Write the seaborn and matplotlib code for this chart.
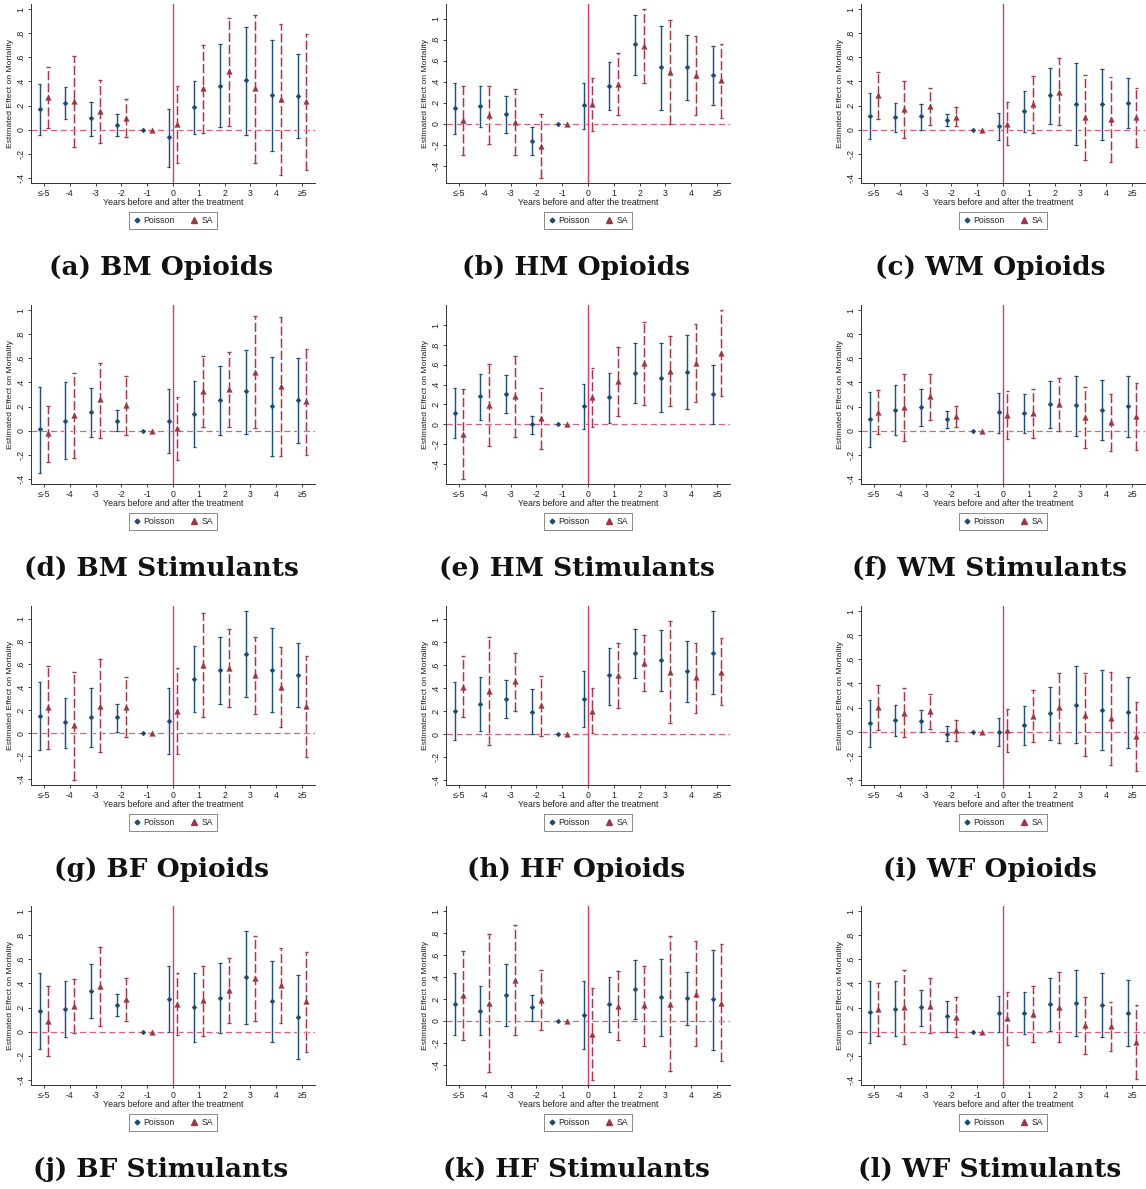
import numpy as np
import pandas as pd
import matplotlib
matplotlib.use("Agg")
import matplotlib.pyplot as plt
import seaborn as sns
from matplotlib.lines import Line2D

# ---------------- data ----------------
periods = ["≤-5", "-4", "-3", "-2", "-1", "0", "1", "2", "3", "4", "≥5"]
y_ticks = [-0.4, -0.2, 0.0, 0.2, 0.4, 0.6, 0.8, 1.0]
y_tick_labels = ["-.4", "-.2", "0", ".2", ".4", ".6", ".8", "1"]
models = ["Poisson", "SA"]
titles = ["(a) BM Opioids", "(b) HM Opioids", "(c) WM Opioids",
          "(d) BM Stimulants", "(e) HM Stimulants", "(f) WM Stimulants",
          "(g) BF Opioids", "(h) HF Opioids", "(i) WF Opioids",
          "(j) BF Stimulants", "(k) HF Stimulants", "(l) WF Stimulants"]

# (a) BM Opioids
bm_op_pois    = [0.170, 0.220, 0.096, 0.040, 0, -0.060, 0.190, 0.366, 0.408, 0.286, 0.280]
bm_op_pois_lo = [-0.040, 0.088, -0.050, -0.055, 0, -0.310, -0.033, 0.020, -0.040, -0.180, -0.066]
bm_op_pois_hi = [0.377, 0.350, 0.230, 0.130, 0, 0.170, 0.400, 0.710, 0.850, 0.744, 0.628]
bm_op_sa      = [0.273, 0.234, 0.154, 0.099, 0, 0.047, 0.342, 0.490, 0.342, 0.256, 0.234]
bm_op_sa_lo   = [0.017, -0.146, -0.107, -0.060, 0, -0.273, -0.025, 0.033, -0.273, -0.372, -0.333]
bm_op_sa_hi   = [0.518, 0.610, 0.408, 0.253, 0, 0.360, 0.700, 0.930, 0.950, 0.876, 0.793]

# (b) HM Opioids
hm_op_pois    = [0.149, 0.168, 0.095, -0.165, 0, 0.175, 0.365, 0.762, 0.537, 0.540, 0.463]
hm_op_pois_lo = [-0.095, -0.029, -0.086, -0.300, 0, -0.044, 0.133, 0.467, 0.133, 0.229, 0.178]
hm_op_pois_hi = [0.390, 0.362, 0.263, -0.025, 0, 0.387, 0.590, 1.038, 0.933, 0.848, 0.743]
hm_op_sa      = [0.035, 0.083, 0.019, -0.206, 0, 0.187, 0.378, 0.743, 0.495, 0.463, 0.413]
hm_op_sa_lo   = [-0.295, -0.194, -0.295, -0.514, 0, -0.070, 0.086, 0.390, 0.000, 0.086, 0.057]
hm_op_sa_hi   = [0.359, 0.359, 0.333, 0.095, 0, 0.435, 0.673, 1.092, 0.990, 0.838, 0.762]

# (c) WM Opioids
wm_op_pois    = [0.116, 0.102, 0.110, 0.080, 0, 0.033, 0.154, 0.286, 0.215, 0.212, 0.223]
wm_op_pois_lo = [-0.074, -0.022, 0.000, 0.028, 0, -0.083, -0.019, 0.050, -0.124, -0.088, 0.017]
wm_op_pois_hi = [0.303, 0.220, 0.212, 0.127, 0, 0.135, 0.322, 0.512, 0.554, 0.501, 0.427]
wm_op_sa      = [0.284, 0.171, 0.196, 0.107, 0, 0.050, 0.209, 0.314, 0.107, 0.088, 0.105]
wm_op_sa_lo   = [0.085, -0.066, 0.039, 0.028, 0, -0.129, -0.025, 0.036, -0.248, -0.267, -0.146]
wm_op_sa_hi   = [0.477, 0.405, 0.347, 0.185, 0, 0.229, 0.444, 0.592, 0.455, 0.435, 0.347]

# (d) BM Stimulants
bm_st_pois    = [0.011, 0.083, 0.154, 0.083, 0, 0.083, 0.140, 0.253, 0.325, 0.201, 0.253]
bm_st_pois_lo = [-0.353, -0.237, -0.052, -0.006, 0, -0.182, -0.135, -0.036, -0.025, -0.207, -0.105]
bm_st_pois_hi = [0.366, 0.400, 0.355, 0.174, 0, 0.344, 0.408, 0.534, 0.669, 0.609, 0.600]
bm_st_sa      = [-0.022, 0.127, 0.259, 0.212, 0, 0.019, 0.328, 0.347, 0.488, 0.369, 0.242]
bm_st_sa_lo   = [-0.256, -0.229, -0.063, -0.033, 0, -0.245, 0.030, 0.030, 0.019, -0.212, -0.201]
bm_st_sa_hi   = [0.204, 0.477, 0.562, 0.457, 0, 0.281, 0.620, 0.653, 0.953, 0.942, 0.679]

# (e) HM Stimulants
hm_st_pois    = [0.115, 0.280, 0.304, 0.000, 0, 0.179, 0.270, 0.517, 0.470, 0.524, 0.300]
hm_st_pois_lo = [-0.139, 0.041, 0.108, -0.098, 0, -0.051, 0.010, 0.213, 0.122, 0.155, 0.000]
hm_st_pois_hi = [0.361, 0.510, 0.497, 0.084, 0, 0.402, 0.514, 0.821, 0.821, 0.902, 0.595]
hm_st_sa      = [-0.098, 0.196, 0.280, 0.061, 0, 0.270, 0.436, 0.615, 0.537, 0.618, 0.720]
hm_st_sa_lo   = [-0.554, -0.220, -0.128, -0.253, 0, -0.034, 0.084, 0.193, 0.179, 0.223, 0.280]
hm_st_sa_hi   = [0.355, 0.608, 0.686, 0.368, 0, 0.571, 0.777, 1.034, 0.889, 1.014, 1.152]

# (f) WM Stimulants
wm_st_pois    = [0.094, 0.174, 0.193, 0.096, 0, 0.152, 0.143, 0.218, 0.209, 0.171, 0.207]
wm_st_pois_lo = [-0.138, -0.039, 0.041, 0.019, 0, -0.017, -0.019, 0.019, -0.041, -0.080, -0.050]
wm_st_pois_hi = [0.322, 0.380, 0.344, 0.163, 0, 0.311, 0.303, 0.413, 0.455, 0.419, 0.455]
wm_st_sa      = [0.154, 0.196, 0.284, 0.118, 0, 0.129, 0.146, 0.218, 0.113, 0.072, 0.118]
wm_st_sa_lo   = [-0.030, -0.083, 0.091, 0.030, 0, -0.072, -0.063, -0.006, -0.140, -0.165, -0.157]
wm_st_sa_hi   = [0.339, 0.471, 0.471, 0.204, 0, 0.331, 0.344, 0.435, 0.364, 0.303, 0.397]

# (g) BF Opioids
bf_op_pois    = [0.152, 0.096, 0.140, 0.137, 0, 0.108, 0.474, 0.550, 0.696, 0.553, 0.509]
bf_op_pois_lo = [-0.149, -0.126, -0.123, 0.009, 0, -0.181, 0.181, 0.254, 0.316, 0.181, 0.228]
bf_op_pois_hi = [0.450, 0.304, 0.398, 0.251, 0, 0.392, 0.760, 0.839, 1.067, 0.918, 0.787]
bf_op_sa      = [0.228, 0.067, 0.240, 0.228, 0, 0.193, 0.594, 0.573, 0.506, 0.406, 0.240]
bf_op_sa_lo   = [-0.137, -0.409, -0.167, -0.035, 0, -0.181, 0.140, 0.228, 0.167, 0.050, -0.205]
bf_op_sa_hi   = [0.585, 0.535, 0.646, 0.488, 0, 0.567, 1.047, 0.909, 0.839, 0.757, 0.673]

# (h) HF Opioids
hf_op_pois    = [0.204, 0.265, 0.309, 0.195, 0, 0.309, 0.513, 0.706, 0.644, 0.551, 0.711]
hf_op_pois_lo = [-0.052, 0.029, 0.140, 0.000, 0, 0.064, 0.254, 0.487, 0.379, 0.280, 0.347]
hf_op_pois_hi = [0.458, 0.496, 0.469, 0.394, 0, 0.548, 0.755, 0.918, 0.910, 0.816, 1.073]
hf_op_sa      = [0.414, 0.379, 0.461, 0.251, 0, 0.204, 0.513, 0.624, 0.545, 0.496, 0.545]
hf_op_sa_lo   = [0.149, -0.096, 0.198, -0.015, 0, 0.009, 0.230, 0.379, 0.099, 0.181, 0.251]
hf_op_sa_hi   = [0.679, 0.845, 0.708, 0.510, 0, 0.399, 0.793, 0.863, 0.985, 0.796, 0.837]

# (i) WF Opioids
wf_op_pois    = [0.069, 0.097, 0.091, -0.017, 0, 0.000, 0.053, 0.155, 0.224, 0.180, 0.163]
wf_op_pois_lo = [-0.127, -0.036, -0.003, -0.080, 0, -0.116, -0.111, -0.066, -0.094, -0.152, -0.133]
wf_op_pois_hi = [0.263, 0.222, 0.183, 0.044, 0, 0.114, 0.210, 0.368, 0.543, 0.512, 0.452]
wf_op_sa      = [0.205, 0.158, 0.175, 0.017, 0, 0.014, 0.133, 0.202, 0.141, 0.114, -0.033]
wf_op_sa_lo   = [0.017, -0.047, 0.025, -0.078, 0, -0.166, -0.086, -0.094, -0.205, -0.277, -0.324]
wf_op_sa_hi   = [0.385, 0.366, 0.316, 0.094, 0, 0.186, 0.343, 0.485, 0.485, 0.496, 0.247]

# (j) BF Stimulants
bf_st_pois    = [0.174, 0.185, 0.340, 0.218, 0, 0.271, 0.207, 0.282, 0.450, 0.254, 0.124]
bf_st_pois_lo = [-0.146, -0.047, 0.116, 0.127, 0, 0.000, -0.083, -0.008, 0.066, -0.088, -0.224]
bf_st_pois_hi = [0.489, 0.420, 0.564, 0.309, 0, 0.544, 0.489, 0.572, 0.834, 0.586, 0.467]
bf_st_sa      = [0.088, 0.213, 0.376, 0.268, 0, 0.227, 0.260, 0.345, 0.445, 0.387, 0.251]
bf_st_sa_lo   = [-0.202, -0.008, 0.050, 0.091, 0, -0.030, -0.033, 0.072, 0.088, 0.075, -0.169]
bf_st_sa_hi   = [0.378, 0.436, 0.702, 0.445, 0, 0.486, 0.544, 0.610, 0.793, 0.693, 0.660]

# (k) HF Stimulants
hf_st_pois    = [0.155, 0.094, 0.237, 0.122, 0, 0.055, 0.155, 0.289, 0.216, 0.210, 0.195]
hf_st_pois_lo = [-0.128, -0.125, -0.046, 0.000, 0, -0.252, -0.100, 0.018, -0.137, -0.036, -0.264]
hf_st_pois_hi = [0.435, 0.316, 0.520, 0.234, 0, 0.359, 0.401, 0.553, 0.562, 0.447, 0.647]
hf_st_sa      = [0.234, 0.161, 0.374, 0.191, 0, -0.122, 0.137, 0.140, 0.155, 0.246, 0.164]
hf_st_sa_lo   = [-0.173, -0.465, -0.128, -0.082, 0, -0.538, -0.173, -0.228, -0.456, -0.228, -0.368]
hf_st_sa_hi   = [0.635, 0.790, 0.875, 0.462, 0, 0.295, 0.453, 0.498, 0.775, 0.723, 0.702]

# (l) WF Stimulants
wf_st_pois    = [0.166, 0.191, 0.202, 0.130, 0, 0.152, 0.155, 0.232, 0.240, 0.224, 0.155]
wf_st_pois_lo = [-0.097, -0.036, 0.044, -0.006, 0, 0.000, -0.017, 0.008, -0.039, -0.047, -0.116]
wf_st_pois_hi = [0.423, 0.420, 0.348, 0.254, 0, 0.296, 0.331, 0.448, 0.514, 0.489, 0.428]
wf_st_sa      = [0.185, 0.204, 0.215, 0.122, 0, 0.110, 0.149, 0.207, 0.052, 0.044, -0.086]
wf_st_sa_lo   = [-0.033, -0.102, -0.008, -0.047, 0, -0.108, -0.083, -0.086, -0.182, -0.160, -0.392]
wf_st_sa_hi   = [0.403, 0.511, 0.448, 0.287, 0, 0.329, 0.378, 0.494, 0.287, 0.249, 0.221]

panels = [
    (bm_op_pois, bm_op_pois_lo, bm_op_pois_hi, bm_op_sa, bm_op_sa_lo, bm_op_sa_hi),
    (hm_op_pois, hm_op_pois_lo, hm_op_pois_hi, hm_op_sa, hm_op_sa_lo, hm_op_sa_hi),
    (wm_op_pois, wm_op_pois_lo, wm_op_pois_hi, wm_op_sa, wm_op_sa_lo, wm_op_sa_hi),
    (bm_st_pois, bm_st_pois_lo, bm_st_pois_hi, bm_st_sa, bm_st_sa_lo, bm_st_sa_hi),
    (hm_st_pois, hm_st_pois_lo, hm_st_pois_hi, hm_st_sa, hm_st_sa_lo, hm_st_sa_hi),
    (wm_st_pois, wm_st_pois_lo, wm_st_pois_hi, wm_st_sa, wm_st_sa_lo, wm_st_sa_hi),
    (bf_op_pois, bf_op_pois_lo, bf_op_pois_hi, bf_op_sa, bf_op_sa_lo, bf_op_sa_hi),
    (hf_op_pois, hf_op_pois_lo, hf_op_pois_hi, hf_op_sa, hf_op_sa_lo, hf_op_sa_hi),
    (wf_op_pois, wf_op_pois_lo, wf_op_pois_hi, wf_op_sa, wf_op_sa_lo, wf_op_sa_hi),
    (bf_st_pois, bf_st_pois_lo, bf_st_pois_hi, bf_st_sa, bf_st_sa_lo, bf_st_sa_hi),
    (hf_st_pois, hf_st_pois_lo, hf_st_pois_hi, hf_st_sa, hf_st_sa_lo, hf_st_sa_hi),
    (wf_st_pois, wf_st_pois_lo, wf_st_pois_hi, wf_st_sa, wf_st_sa_lo, wf_st_sa_hi),
]

# ---------------- style ----------------
sns.set_style("ticks")
plt.rcParams["font.family"] = ["Liberation Sans", "DejaVu Sans"]
plt.rcParams["lines.scale_dashes"] = False

NAVY = "#1f4a72"
NAVY_HALO = "#cdd8e4"
MAROON = "#983a45"
MAROON_HALO = "#ebcbd0"
VLINE = "#d63c6b"
HLINE = "#d9607f"
SA_DASH = [(0, (6.5, 2.2))]

W, H = 1146, 1189
fig = plt.figure(figsize=(W / 100, H / 100), dpi=100)
fig.patch.set_facecolor("white")

col_x = [0, 415, 830]
row_y = [0, 301, 602, 902]
cap_cx = [161, 576.5, 990]
AX_L, AX_W, AX_T, AX_H = 31, 284, 4, 179
OFF = 0.17
CAP = 0.07


def draw_panel(ax, vals):
    pois, plo, phi, sa, slo, shi = vals
    n = len(periods)
    df = pd.DataFrame({
        "x": np.concatenate([np.arange(n) - OFF, np.arange(n) + OFF]),
        "est": pois + sa,
        "lo": plo + slo,
        "hi": phi + shi,
        "model": [models[0]] * n + [models[1]] * n,
    })
    lo_all = min(df["lo"].min(), df["est"].min(), y_ticks[0])
    hi_all = max(df["hi"].max(), df["est"].max(), y_ticks[-1])
    pad = 0.03 * (hi_all - lo_all)

    ax.axhline(0, color=HLINE, lw=0.9, dashes=(4.5, 2.5), zorder=1)
    ax.axvline(periods.index("0"), color=VLINE, lw=1.0, zorder=1)

    ci = df[df["hi"] > df["lo"]]
    p = ci[ci["model"] == "Poisson"]
    s = ci[ci["model"] == "SA"]
    # Poisson: solid spikes with caps
    ax.vlines(p["x"], p["lo"], p["hi"], color=NAVY_HALO, lw=2.3, zorder=2)
    ax.vlines(p["x"], p["lo"], p["hi"], color=NAVY, lw=0.7, zorder=3)
    for yy in (p["lo"], p["hi"]):
        ax.hlines(yy, p["x"] - CAP, p["x"] + CAP, color=NAVY_HALO, lw=1.8, zorder=2)
        ax.hlines(yy, p["x"] - CAP, p["x"] + CAP, color=NAVY, lw=0.7, zorder=3)
    # SA: dashed spikes with caps
    ax.vlines(s["x"], s["lo"], s["hi"], color=MAROON_HALO, lw=2.3,
              linestyles=SA_DASH, zorder=2)
    ax.vlines(s["x"], s["lo"], s["hi"], color=MAROON, lw=0.7,
              linestyles=SA_DASH, zorder=3)
    for yy in (s["lo"], s["hi"]):
        ax.hlines(yy, s["x"] - CAP, s["x"] + CAP, color=MAROON_HALO, lw=1.8, zorder=2)
        ax.hlines(yy, s["x"] - CAP, s["x"] + CAP, color=MAROON, lw=0.7, zorder=3)

    sns.scatterplot(data=df[df["model"] == "Poisson"], x="x", y="est", marker="D",
                    color=NAVY, s=8, linewidth=0, ax=ax, zorder=4, legend=False)
    sns.scatterplot(data=df[df["model"] == "SA"], x="x", y="est", marker="^",
                    color=MAROON, s=20, linewidth=0, ax=ax, zorder=4, legend=False)

    ax.set_xlim(-0.5, n - 0.5)
    ax.set_ylim(lo_all - pad, hi_all + pad)
    ax.set_xticks(np.arange(n))
    ax.set_xticklabels(periods, fontsize=6.3)
    ax.set_yticks(y_ticks)
    ax.set_yticklabels(y_tick_labels, fontsize=6.3, rotation=90, va="center")
    ax.tick_params(axis="both", direction="out", length=2.5, width=0.6,
                   pad=1.5, colors="#222222")
    ax.set_xlabel("Years before and after the treatment", fontsize=6.3,
                  labelpad=0, color="#222222")
    ax.set_ylabel("Estimated Effect on Mortality", fontsize=6.1,
                  labelpad=1.5, color="#222222")
    for side in ("top", "right"):
        ax.spines[side].set_visible(False)
    for side in ("left", "bottom"):
        ax.spines[side].set_linewidth(0.7)
        ax.spines[side].set_color("#333333")
    ax.set_facecolor("white")

    handles = [
        Line2D([], [], marker="D", color=NAVY, ls="none", markersize=2.4),
        Line2D([], [], marker="^", color=MAROON, ls="none", markersize=4.2),
    ]
    leg = ax.legend(handles, models, loc="upper center", bbox_to_anchor=(0.5, -0.163),
                    ncol=2, frameon=True, fancybox=False, fontsize=6.3,
                    handlelength=0.8, handletextpad=0.4, columnspacing=1.8,
                    borderpad=0.45, borderaxespad=0)
    leg.get_frame().set_edgecolor("#555555")
    leg.get_frame().set_linewidth(0.6)


for k, vals in enumerate(panels):
    r, c = divmod(k, 3)
    left = (col_x[c] + AX_L) / W
    bottom = 1 - (row_y[r] + AX_T + AX_H) / H
    ax = fig.add_axes([left, bottom, AX_W / W, AX_H / H])
    draw_panel(ax, vals)
    fig.text(cap_cx[c] / W, 1 - (row_y[r] + 267) / H, titles[k],
             ha="center", va="center", fontsize=19, fontweight="bold",
             family=["DejaVu Serif"], color="#111111")

fig.savefig("out.png", dpi=100, facecolor="white")
